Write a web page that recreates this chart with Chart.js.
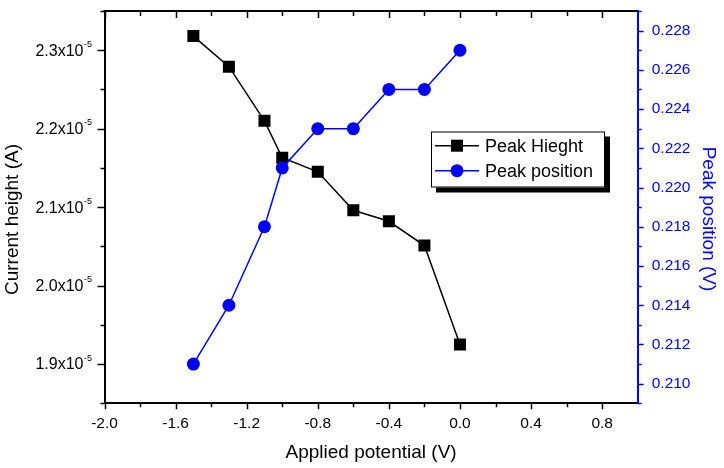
<!DOCTYPE html>
<html><head><meta charset="utf-8">
<script src="https://cdn.jsdelivr.net/npm/chart.js@4/dist/chart.umd.min.js"></script>
<style>html,body{margin:0;padding:0;background:#fff}#wrap{width:724px;height:468px;position:relative}</style>
</head><body><div id="wrap"><canvas id="c" width="724" height="468"></canvas></div>
<script>
// ---- data ----
const potentials = [-1.5, -1.3, -1.1, -1.0, -0.8, -0.6, -0.4, -0.2, 0.0];
const peakHeight = [2.318e-5, 2.279e-5, 2.210e-5, 2.163e-5, 2.145e-5, 2.096e-5, 2.082e-5, 2.051e-5, 1.925e-5];
const peakPosition = [0.211, 0.214, 0.218, 0.221, 0.223, 0.223, 0.225, 0.225, 0.227];
const xTicks = [-2.0, -1.6, -1.2, -0.8, -0.4, 0.0, 0.4, 0.8];
const leftTickValues = [1.9e-5, 2.0e-5, 2.1e-5, 2.2e-5, 2.3e-5];
const leftTickMantissa = ['1.9', '2.0', '2.1', '2.2', '2.3'];
const leftTickExponent = '-5';
const rightTicks = [0.210, 0.212, 0.214, 0.216, 0.218, 0.220, 0.222, 0.224, 0.226, 0.228];
const seriesNames = ['Peak Hieght', 'Peak position'];
const xTitle = 'Applied potential (V)';
const yTitle = 'Current height (A)';
const y2Title = 'Peak position (V)';

const FONT = '"Liberation Sans", Arial, sans-serif';
const BLUE = '#0000ff';

function noPad(s) { s.paddingTop = 0; s.paddingBottom = 0; s.paddingLeft = 0; s.paddingRight = 0; }

const extras = {
  id: 'extras',
  afterDraw(chart) {
    const ctx = chart.ctx;
    const a = chart.chartArea;
    const xs = chart.scales.x, ys = chart.scales.y, y2 = chart.scales.y2;
    ctx.save();
    // top frame line
    ctx.strokeStyle = '#000'; ctx.lineWidth = 2;
    ctx.beginPath(); ctx.moveTo(a.left - 1, a.top); ctx.lineTo(a.right, a.top); ctx.stroke();
    // x ticks (bottom outward, top inward)
    ctx.lineWidth = 1.5;
    for (let i = 0; i < 15; i++) {
      const v = -2.0 + i * 0.2;
      const px = Math.round(xs.getPixelForValue(v)) + 0.5;
      const major = i % 2 === 0;
      const L = major ? 6 : 4;
      ctx.beginPath();
      ctx.moveTo(px, a.bottom); ctx.lineTo(px, a.bottom + L);
      ctx.moveTo(px, a.top); ctx.lineTo(px, a.top + L + 1);
      ctx.stroke();
    }
    // left ticks
    for (let i = 0; i <= 10; i++) {
      const v = 1.85e-5 + i * 0.05e-5;
      const py = Math.round(ys.getPixelForValue(v)) + 0.5;
      const major = i % 2 === 1;
      const L = major ? 7 : 4;
      ctx.beginPath(); ctx.moveTo(a.left, py); ctx.lineTo(a.left - L, py); ctx.stroke();
    }
    // right ticks (blue)
    ctx.strokeStyle = BLUE;
    for (let i = 0; i <= 20; i++) {
      const v = 0.209 + i * 0.001;
      const py = Math.round(y2.getPixelForValue(v)) + 0.5;
      const major = i % 2 === 1;
      const L = major ? 6 : 4;
      ctx.beginPath(); ctx.moveTo(a.right, py); ctx.lineTo(a.right + L, py); ctx.stroke();
    }
    // left tick labels with superscript exponent
    ctx.fillStyle = '#000';
    const rightEdge = 92;
    leftTickValues.forEach((v, i) => {
      const py = ys.getPixelForValue(v);
      ctx.font = '9px ' + FONT;
      const supW = ctx.measureText(leftTickExponent).width;
      ctx.textAlign = 'left'; ctx.textBaseline = 'middle';
      ctx.fillText(leftTickExponent, rightEdge - supW, py - 6);
      ctx.font = '16px ' + FONT;
      ctx.textAlign = 'right';
      ctx.fillText(leftTickMantissa[i] + 'x10', rightEdge - supW - 0.5, py + 1);
    });
    // axis titles
    ctx.font = '19px ' + FONT;
    ctx.textAlign = 'center'; ctx.textBaseline = 'middle';
    ctx.fillStyle = '#000';
    ctx.fillText(xTitle, (a.left + a.right) / 2, 453);
    ctx.save(); ctx.translate(12.5, 219.5); ctx.rotate(-Math.PI / 2); ctx.fillText(yTitle, 0, 0); ctx.restore();
    ctx.fillStyle = BLUE;
    ctx.save(); ctx.translate(708, 219); ctx.rotate(Math.PI / 2); ctx.fillText(y2Title, 0, 0); ctx.restore();
    // legend
    const lx = 431, ly = 131.5, lw = 174, lh = 56;
    ctx.fillStyle = '#000'; ctx.fillRect(lx + 5, ly + 5, lw, lh);
    ctx.fillStyle = '#fff'; ctx.fillRect(lx, ly, lw, lh);
    ctx.strokeStyle = '#000'; ctx.lineWidth = 1; ctx.strokeRect(lx + 0.5, ly + 0.5, lw - 1, lh - 1);
    const rows = [{y: 145.7, c: '#000', shape: 'rect'}, {y: 170.7, c: BLUE, shape: 'circle'}];
    rows.forEach((r, i) => {
      ctx.strokeStyle = r.c; ctx.lineWidth = 1.5;
      ctx.beginPath(); ctx.moveTo(435, r.y); ctx.lineTo(479, r.y); ctx.stroke();
      ctx.fillStyle = r.c;
      if (r.shape === 'rect') ctx.fillRect(451, r.y - 6, 12, 12);
      else { ctx.beginPath(); ctx.arc(457, r.y, 6.5, 0, Math.PI * 2); ctx.fill(); }
      ctx.fillStyle = '#000'; ctx.font = '18px ' + FONT; ctx.textAlign = 'left';
      ctx.fillText(seriesNames[i], 485, r.y + 1);
    });
    ctx.restore();
  }
};

new Chart(document.getElementById('c'), {
  type: 'line',
  data: {
    datasets: [
      {
        label: seriesNames[0], yAxisID: 'y', order: 1,
        data: potentials.map((x, i) => ({x, y: peakHeight[i]})),
        borderColor: '#000', backgroundColor: '#000', borderWidth: 1.5,
        pointStyle: 'rect', pointRadius: 8.5, pointBorderWidth: 0, tension: 0
      },
      {
        label: seriesNames[1], yAxisID: 'y2', order: 0,
        data: potentials.map((x, i) => ({x, y: peakPosition[i]})),
        borderColor: BLUE, backgroundColor: BLUE, borderWidth: 1.5,
        pointStyle: 'circle', pointRadius: 6.5, pointBorderWidth: 0, tension: 0
      }
    ]
  },
  options: {
    responsive: false, animation: false, devicePixelRatio: 1,
    layout: {padding: {top: 11, left: 0, right: 0, bottom: 0}},
    plugins: {legend: {display: false}, tooltip: {enabled: false}},
    scales: {
      x: {
        type: 'linear', position: 'bottom', min: -2.0, max: 1.0,
        afterBuildTicks: s => { s.ticks = xTicks.map(v => ({value: v})); },
        ticks: {font: {family: FONT, size: 15.5}, color: '#000', padding: 11, maxRotation: 0, autoSkip: false,
          callback: v => Number(v).toFixed(1)},
        grid: {display: false, drawTicks: false, tickLength: 0},
        border: {color: '#000', width: 2},
        afterFit: s => { s.height = 64.7; noPad(s); }
      },
      y: {
        type: 'linear', position: 'left', min: 1.85e-5, max: 2.35e-5,
        ticks: {display: false},
        grid: {display: false, drawTicks: false, tickLength: 0},
        border: {color: '#000', width: 2},
        afterFit: s => { s.width = 104.5; noPad(s); }
      },
      y2: {
        type: 'linear', position: 'right', min: 0.209, max: 0.229,
        afterBuildTicks: s => { s.ticks = rightTicks.map(v => ({value: v})); },
        ticks: {font: {family: FONT, size: 15.5}, color: BLUE, padding: 14, callback: v => Number(v).toFixed(3)},
        grid: {display: false, drawTicks: false, tickLength: 0},
        border: {color: BLUE, width: 2},
        afterFit: s => { s.width = 86.3; noPad(s); }
      }
    }
  },
  plugins: [extras]
});
</script></body></html>
